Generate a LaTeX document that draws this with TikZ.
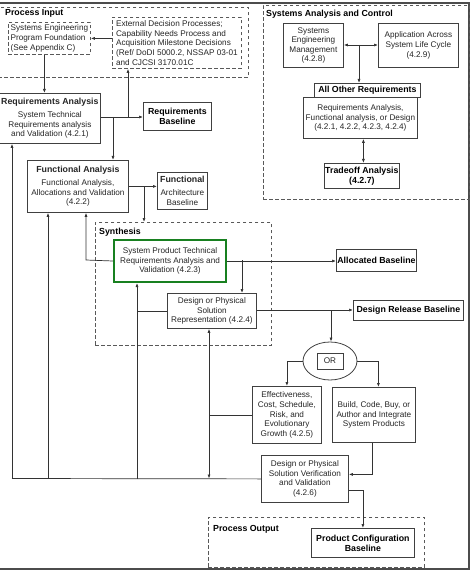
\documentclass[tikz,border=0pt]{standalone}
\usepackage{fontspec}
\setmainfont{Liberation Sans}
\usetikzlibrary{shapes.geometric}
\usetikzlibrary{calc}
\usetikzlibrary{arrows.meta}
\definecolor{synGreen}{RGB}{24,128,32}

\begin{document}
\begin{tikzpicture}[x=1pt, y=-1pt, font=\fontsize{8.2}{9.6}\selectfont]
        % ================= 样式定义 =================
        \tikzset{
            % 实线方框:左上角定位
            box/.style={draw=black!75, line width=0.8pt, fill=white, text=black!85, align=center, inner sep=0pt, anchor=north west},
            % 粗体方框 (Baseline 一类)
            bbox/.style={box, font=\fontsize{8.8}{10}\selectfont\bfseries, text=black},
            % 虚线分区
            dbox/.style={draw=black!65, line width=0.8pt, dash pattern=on 3.5pt off 2.5pt, anchor=north west, inner sep=0pt},
            % 分区标题
            lbl/.style={anchor=north west, inner sep=1pt, font=\fontsize{8.8}{10}\selectfont\bfseries},
            % 尺寸
            sz/.style 2 args={minimum width=#1pt, minimum height=#2pt},
            % 连线
            line/.style={draw=black!80, line width=0.7pt},
            arr/.style={line, -{Latex[length=4pt,width=3pt]}},
            arrtwo/.style={line, {Latex[length=4pt,width=3pt]}-{Latex[length=4pt,width=3pt]}}
        }
        \useasboundingbox (0,0) rectangle (471,572);

        % 外框 (左边在图外)
        \draw[draw=black!70, line width=1.6pt] (0,3) -- (469,3) -- (469,569) -- (0,569);

        % ================= Process Input =================
        \node[dbox, sz={250}{70}] (pin) at (-2,7) {};
        \node[lbl] (pinlbl) at (4,8) {Process Input};
        \node[box, dbox, align=left, sz={82}{32}] (sepf) at (8,22)
            {Systems Engineering\\Program Foundation\\(See Appendix C)};
        \node[box, dbox, align=left, sz={129}{51}] (ext) at (112,17)
            {External Decision Processes;\\Capability Needs Process and\\Acquisition Milestone Decisions\\(Ref/ DoDI 5000.2, NSSAP 03-01\\and CJCSI 3170.01C};

        % ================= Systems Analysis and Control =================
        \node[dbox, sz={206}{194}] (sac) at (263,5) {};
        \node[lbl] (saclbl) at (265,9) {Systems Analysis and Control};
        \node[box, sz={60}{44}] (sem) at (283,23) {Systems\\Engineering\\Management\\(4.2.8)};
        \node[box, sz={80}{44}] (alc) at (378,23) {Application Across\\System Life Cycle\\(4.2.9)};
        \node[bbox, sz={106}{14}] (aor) at (314,83) {All Other Requirements};
        \node[box, sz={114}{41}] (rfd) at (303,97) {Requirements Analysis,\\Functional analysis, or Design\\(4.2.1, 4.2.2, 4.2.3, 4.2.4)};
        \node[bbox, sz={75}{25}] (ta) at (324,163) {Tradeoff Analysis\\(4.2.7)};

        \coordinate (jsac) at (359,45);
        \draw[arr] (jsac) -- (jsac -| sem.east);
        \draw[arr] (jsac) -- (jsac -| alc.west);
        \draw[arr] (jsac) -- (jsac |- aor.north);
        \draw[arrtwo] ([xshift=1.5pt]ta.north |- rfd.south) -- ([xshift=1.5pt]ta.north);

        % ================= Requirements / Functional Analysis =================
        \node[box, sz={101}{50}] (ra) at (-1,93)
            {{\bfseries\fontsize{8.8}{10}\selectfont Requirements Analysis}\\[3pt]System Technical\\Requirements analysis\\and Validation (4.2.1)};
        \node[bbox, sz={68}{28}] (rb) at (143,102) {Requirements\\Baseline};
        \node[box, sz={101}{52}] (fa) at (27,160)
            {{\bfseries\fontsize{8.8}{10}\selectfont Functional Analysis}\\[3pt]Functional Analysis,\\Allocations and Validation\\(4.2.2)};
        \node[box, sz={50}{37}] (fab) at (157,172)
            {{\bfseries\fontsize{8.8}{10}\selectfont Functional}\\[3pt]Architecture\\Baseline};

        \draw[arr] (ext.west |- sepf.east) -- (sepf.east);
        \draw[arr] ([xshift=-5pt]sepf.south) -- ([xshift=-5pt]sepf.south |- ra.north);

        \coordinate (jra1) at (113,117);
        \coordinate (jra2) at (128,117);
        \draw[arr] (ra.east |- jra1) -- (jra1 -| rb.west);
        \draw[arr] (jra2) -- (jra2 |- ext.south);
        \draw[arr] (jra1) -- (jra1 |- fa.north);

        % ================= Synthesis =================
        \node[dbox, sz={176}{123}] (syn) at (95,222) {};
        \node[lbl] (synlbl) at (98,227) {Synthesis};
        \node[box, draw=synGreen, line width=2pt, sz={112}{42}] (spt) at (113,239)
            {System Product Technical\\Requirements Analysis and\\Validation (4.2.3)};
        \node[box, sz={89}{35}] (des) at (167,293) {Design or Physical\\Solution\\Representation (4.2.4)};

        \coordinate (jfa) at (144,186);
        \draw[arr] (fa.east) -- (fa.east -| fab.west);
        \draw[arr] (jfa) -- (jfa |- syn.north);

        % ================= Baselines / 右侧 =================
        \node[bbox, sz={80}{22}] (alloc) at (336,249) {Allocated Baseline};
        \node[bbox, sz={110}{20}] (drb) at (353,300) {Design Release Baseline};
        \node[ellipse, draw=black!75, line width=0.8pt, minimum width=54pt, minimum height=38pt] (ore) at (330,361) {};
        \node[box, anchor=center, sz={26}{16}] (orb) at (ore.center) {OR};
        \node[box, sz={69}{57}] (eff) at (252,386) {Effectiveness,\\Cost, Schedule,\\Risk, and\\Evolutionary\\Growth (4.2.5)};
        \node[box, sz={83}{55}] (bld) at (332,387) {Build, Code, Buy, or\\Author and Integrate\\System Products};
        \node[box, sz={87}{47}] (ver) at (261,455) {Design or Physical\\Solution Verification\\and Validation\\(4.2.6)};

        \coordinate (jsp) at (242,260);
        \draw[arr] (spt.east) -- (spt.east -| alloc.west);
        \draw[arr] (jsp) -- (jsp |- des.north);
        \coordinate (jdr) at (331,310);
        \draw[arr] (des.east |- jdr) -- (jdr -| drb.west);
        \draw[arr] (jdr) -- (jdr |- ore.north);
        \draw[arr] (ore.west) -| (eff.north);
        \draw[arr] (ore.east) -| ([xshift=4.5pt]bld.north);
        \draw[arr] ([xshift=-1.5pt]bld.south) |- ([yshift=4.5pt]ver.east);

        % ================= Process Output =================
        \node[dbox, sz={216}{50}] (pout) at (208,517) {};
        \node[lbl] (poutlbl) at (212,524) {Process Output};
        \node[bbox, sz={103}{29}] (pcb) at (311,528) {Product Configuration\\Baseline};
        \draw[arr] ([yshift=-11.5pt]ver.east) -| (pcb.north);

        % ================= 反馈线 =================
        \coordinate (fb1) at (12,478.5);
        \coordinate (fb2) at (48,478.5);
        \coordinate (fb3) at (137,478.5);
        \coordinate (fb4) at (209,478.5);
        \coordinate (jsw) at (86,260);
        \draw[line] (ver.west) -- (fb1);
        \foreach \c/\t in {fb1/ra, fb2/fa, fb3/spt} {
            \draw[arr] (\c) -- (\c |- \t.south);
        }
        \draw[arrtwo] (fb4 |- des.south) -- (fb4);
        \draw[line] (des.west) -- (des.west -| fb3);
        \draw[line] (eff.west) -- (eff.west -| fb4);
        \draw[arr] (spt.west) -- (jsw) -- (jsw |- fa.south);

    \end{tikzpicture}
\end{document}
